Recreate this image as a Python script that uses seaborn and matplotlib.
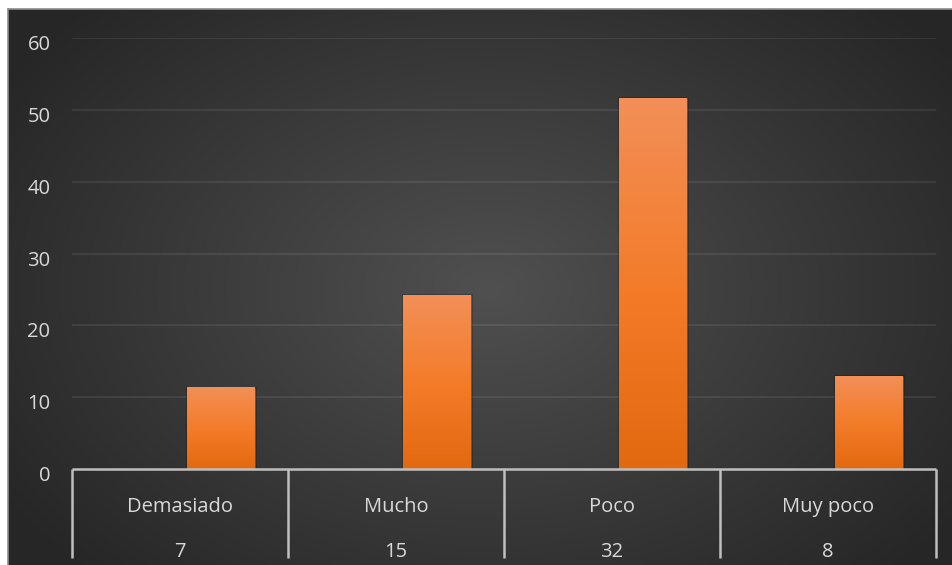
import numpy as np
import pandas as pd
import matplotlib
matplotlib.use("Agg")
import matplotlib.pyplot as plt
import matplotlib.transforms as mtransforms
from matplotlib.colors import LinearSegmentedColormap, to_rgb
import seaborn as sns

# Survey answers and how many people gave each one
categories = ["Demasiado", "Mucho", "Poco", "Muy poco"]
counts = [7, 15, 32, 8]
y_ticks = [0, 10, 20, 30, 40, 50, 60]

total = sum(counts)
percent = [100.0 * c / total for c in counts]

# Two series per category: an empty one on the left, the percentage on the right
df = pd.DataFrame({
    "categoria": categories * 2,
    "serie": ["vacía"] * len(categories) + ["Porcentaje"] * len(categories),
    "valor": [0.0] * len(categories) + percent,
})

sns.set_theme(style="white")
plt.rcParams["font.family"] = ["Open Sans", "DejaVu Sans"]

W, H = 953, 565
fig = plt.figure(figsize=(W / 100, H / 100), dpi=100)
fig.patch.set_facecolor("white")

# Dark panel with a soft radial light in the middle
bg = fig.add_axes([8 / W, 0, (W - 8) / W, (H - 9) / H])
bg.set_axis_off()
nx, ny = 945, 556
xx, yy = np.meshgrid(np.arange(nx), np.arange(ny))
cx, cy, rx, ry = 480, 280, 580, 400
t = np.clip(np.sqrt(((xx - cx) / rx) ** 2 + ((yy - cy) / ry) ** 2), 0, 1)
c_in = np.array(to_rgb("#505050"))
c_out = np.array(to_rgb("#262626"))
img = c_in[None, None, :] * (1 - t[..., None]) + c_out[None, None, :] * t[..., None]
bg.imshow(img, extent=[0, 1, 0, 1], aspect="auto", origin="upper", interpolation="bilinear")
fig.add_artist(plt.Line2D([8 / W, 1], [(H - 9) / H] * 2, color="#8c8c8c", lw=1.2))
fig.add_artist(plt.Line2D([8 / W] * 2, [0, (H - 9) / H], color="#8c8c8c", lw=1.2))

# Plot area
ax_left, ax_right, ax_bottom, ax_top = 72, 936, 469, 38
ax = fig.add_axes([ax_left / W, (H - ax_bottom) / H,
                   (ax_right - ax_left) / W, (ax_bottom - ax_top) / H])
ax.set_facecolor("none")

sns.barplot(data=df, x="categoria", y="valor", hue="serie",
            hue_order=["vacía", "Porcentaje"], order=categories,
            width=0.76, gap=0.18, linewidth=2.2, edgecolor=(0, 0, 0, 0.18),
            palette=["#F47C2A", "#F47C2A"], legend=False, ax=ax, zorder=3)

ax.set_xlim(-0.5, len(categories) - 0.5)
ax.set_ylim(0, 60)
ax.set_yticks(y_ticks)
ax.set_yticklabels([str(v) for v in y_ticks])
for v in y_ticks[1:]:
    ax.axhline(v, color="white", alpha=0.09, lw=1.2, zorder=1)
for s in ax.spines.values():
    s.set_visible(False)
ax.set_xticks([])
ax.set_xlabel("")
ax.set_ylabel("")
ax.tick_params(axis="y", length=0, pad=15.5, labelsize=14.5, labelcolor="#d9d9d9")
shift = mtransforms.ScaledTranslation(0, -4.5 / 100, fig.dpi_scale_trans)
for lab in ax.get_yticklabels():
    lab.set_transform(lab.get_transform() + shift)

# Vertical gradient fill for each bar
bar_cmap = LinearSegmentedColormap.from_list(
    "naranja", ["#E3690F", "#F47C2A", "#F28F57"])
grad = np.linspace(0, 1, 256).reshape(-1, 1)
for p in ax.patches:
    h = p.get_height()
    if h <= 0:
        p.set_visible(False)
        continue
    x0 = p.get_x()
    ax.imshow(grad, extent=[x0, x0 + p.get_width(), 0, h], origin="lower",
              cmap=bar_cmap, aspect="auto", zorder=4, interpolation="bilinear")
ax.set_xlim(-0.5, len(categories) - 0.5)
ax.set_ylim(0, 60)

# Data table under the bars
line_col = "#bfbfbf"
ax_h = ax_bottom - ax_top
trans = ax.get_xaxis_transform()
y_low = -(558 - ax_bottom) / ax_h
ax.plot([-0.5, len(categories) - 0.5], [0, 0], transform=trans, color=line_col,
        lw=1.8, clip_on=False, zorder=5, solid_capstyle="butt")
for xb in np.arange(len(categories) + 1) - 0.5:
    ax.plot([xb, xb], [0, y_low], transform=trans, color=line_col, lw=1.8,
            clip_on=False, zorder=5, solid_capstyle="butt")
y_cat = -(512 - ax_bottom) / ax_h
y_cnt = -(557 - ax_bottom) / ax_h
for i, (cat, n) in enumerate(zip(categories, counts)):
    ax.text(i, y_cat, cat, transform=trans, ha="center", va="baseline",
            fontsize=14.5, color="#d9d9d9")
    ax.text(i, y_cnt, str(n), transform=trans, ha="center", va="baseline",
            fontsize=14.5, color="#d9d9d9")

fig.savefig("out.png", dpi=100)
